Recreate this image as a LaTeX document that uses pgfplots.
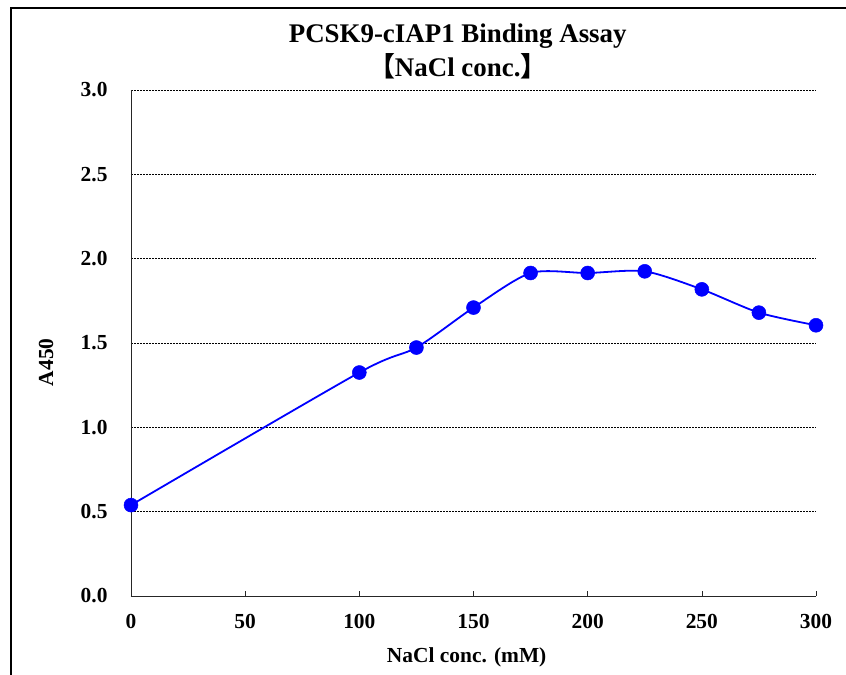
\documentclass[border=0pt]{standalone}
\usepackage{fontspec}
\setmainfont{Liberation Serif}
\newfontfamily\cjk{Noto Sans CJK JP}
\usepackage{pgfplots}
\pgfplotsset{compat=1.18}
\begin{document}
\begin{tikzpicture}
\useasboundingbox (-131bp,-79bp) rectangle (715bp,596bp);
\draw[line width=1.5bp] (-120bp,-79bp) -- (-120bp,588bp) -- (715bp,588bp);
\begin{axis}[
  at={(0,0)}, anchor=south west,
  scale only axis, width=685bp, height=506bp,
  xmin=0, xmax=300, ymin=0, ymax=3,
  clip=false,
  axis lines*=left,
  axis line style={line width=0.9bp, black!85},
  xtick={0,50,...,300}, ytick={0,0.5,...,3},
  tick align=inside, major tick length=5bp,
  xtick style={line width=0.6bp, black!85},
  ytick style={draw=none},
  ymajorgrids,
  grid style={black, line width=0.5bp, dash pattern=on 2bp off 1bp},
  /pgf/number format/assume math mode=true,
  yticklabel style={/pgf/number format/fixed, /pgf/number format/fixed zerofill, /pgf/number format/precision=1, xshift=-20bp},
  tick label style={font=\fontsize{21.5}{21.5}\selectfont\bfseries},
  xticklabel style={yshift=-15bp},
  xlabel={NaCl conc. (mM)},
  ylabel={A450},
  every axis x label/.style={at={(axis description cs:0.49,0)}, yshift=-61bp, anchor=center, font=\fontsize{21.5}{21.5}\selectfont\bfseries},
  every axis y label/.style={at={(axis description cs:0,0.462)}, xshift=-85bp, anchor=center, rotate=90, font=\fontsize{21.5}{21.5}\selectfont\bfseries},
]
\addplot[blue, line width=1.8bp, smooth, tension=0.45, mark=*, mark size=7bp, mark options={fill=blue, draw=blue, line width=0.5bp}] coordinates {
(0,0.539) (100,1.325) (125,1.473) (150,1.710) (175,1.915) (200,1.915) (225,1.925) (250,1.818) (275,1.680) (300,1.605)
};
\node[font=\fontsize{27}{27}\selectfont\bfseries, anchor=center] at (axis description cs:0.477,1) [yshift=54bp] {PCSK9-cIAP1 Binding Assay};
\node[font=\fontsize{27}{27}\selectfont\bfseries, anchor=center] at (axis description cs:0.477,1) [yshift=24bp] {{\cjk\bfseries 【}NaCl conc.{\cjk\bfseries 】}};
\end{axis}
\end{tikzpicture}
\end{document}
